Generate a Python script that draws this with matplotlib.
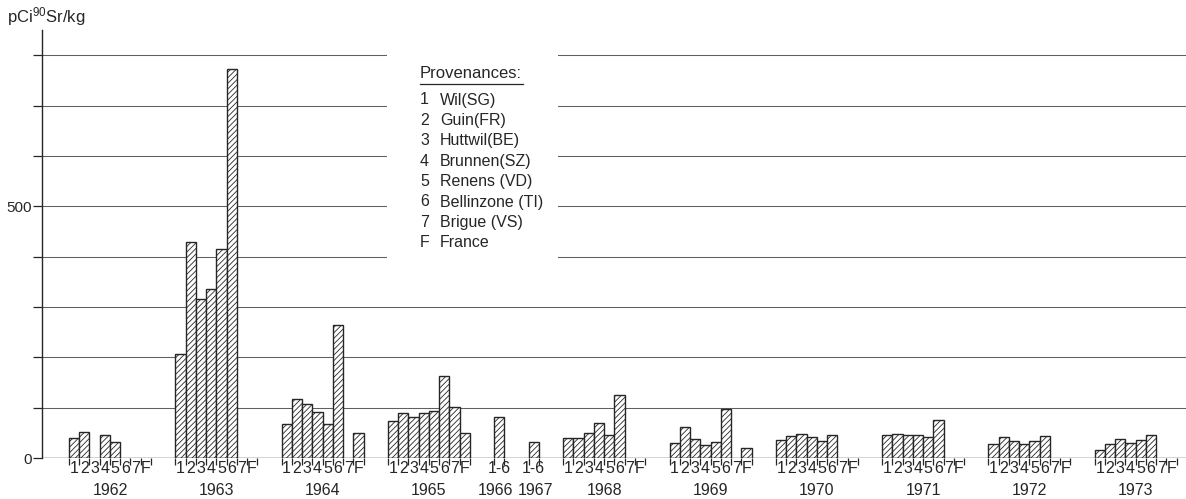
import numpy as np
import matplotlib
matplotlib.use('Agg')
import matplotlib.pyplot as plt
from matplotlib.patches import Rectangle

# ---- data: pCi 90Sr / kg, by year and origin (1-7, F) ----
years = ['1962', '1963', '1964', '1965', '1966', '1967',
         '1968', '1969', '1970', '1971', '1972', '1973']
slot_labels = ['1', '2', '3', '4', '5', '6', '7', 'F']

v1962 = [40, 52, None, 45, 32, None, None, None]
v1963 = [207, 429, 315, 335, 415, 772, None, None]
v1964 = [67, 118, 108, 91, 67, 264, None, 49]
v1965 = [74, 89, 82, 90, 94, 162, 102, 50]
v1966 = [81]
v1967 = [31]
v1968 = [39, 40, 50, 70, 45, 125, None, None]
v1969 = [29, 62, 38, 25, 31, 98, None, 20]
v1970 = [35, 43, 48, 41, 34, 45, None, None]
v1971 = [45, 47, 45, 45, 41, 76, None, None]
v1972 = [28, 41, 34, 28, 34, 43, None, None]
v1973 = [15, 28, 37, 29, 35, 45, None, None]

series = [v1962, v1963, v1964, v1965, v1966, v1967,
          v1968, v1969, v1970, v1971, v1972, v1973]

legend_title = 'Provenances:'
legend_keys = ['1', '2', '3', '4', '5', '6', '7', 'F']
legend_names = ['Wil(SG)', 'Guin(FR)', 'Huttwil(BE)', 'Brunnen(SZ)',
                'Renens (VD)', 'Bellinzone (TI)', 'Brigue (VS)', 'France']

ytick_vals = [0, 100, 200, 300, 400, 500, 600, 700, 800]
ytick_text = ['0', '', '', '', '', '500', '', '', '']

# ---- style ----
INK = '#262626'
plt.rcParams['font.family'] = ['Liberation Sans', 'DejaVu Sans']
plt.rcParams['hatch.linewidth'] = 0.6
plt.rcParams['hatch.color'] = INK

W, H, DPI = 1186, 499, 100
fig = plt.figure(figsize=(W / DPI, H / DPI), dpi=DPI)
fig.patch.set_facecolor('white')

slot_px = 10.25          # width of one bar
left_px, base_px, top_px = 42, 458, 30
ax = fig.add_axes([left_px / W, (H - base_px) / H,
                   1 - left_px / W, (base_px - top_px) / H])
ax.set_xlim(0, (W - left_px) / slot_px)
ax.set_ylim(0, 850)
ax.patch.set_alpha(0)

for s in ['top', 'right', 'bottom']:
    ax.spines[s].set_visible(False)
ax.spines['left'].set_color(INK)
ax.spines['left'].set_linewidth(1.0)

ax.set_xticks([])
ax.set_yticks(ytick_vals)
ax.set_yticklabels(ytick_text, fontsize=11, color=INK)
ax.tick_params(axis='y', length=6.5, width=0.9, color=INK, pad=1)

# horizontal rules
for v in ytick_vals[1:]:
    ax.axhline(v, color='#606060', lw=0.75, zorder=1)
ax.axhline(0, color=INK, lw=1.0, zorder=3)

# white block behind the origin list
ax.add_patch(Rectangle(((387 - left_px) / slot_px, 380), (558 - 387) / slot_px, 470,
                       facecolor='white', edgecolor='none', zorder=1.5))

# ---- bars, grouped by year ----
gap = 2.37
x = 2.63
px_per_unit = (base_px - top_px) / 850
tick_len = 6.5 / px_per_unit
# the two single-bar years sit close together: pull their labels apart a bit
label_nudge = {'1966': -0.4, '1967': 0.15}
for year, vals in zip(years, series):
    n = len(vals)
    for i, v in enumerate(vals):
        if v is None:
            continue
        ax.bar(x + i, v, width=1, align='edge', facecolor='white',
               edgecolor=INK, lw=1.0, hatch='//////', zorder=2)
    ax.vlines(x + np.arange(n + 1), -tick_len, 0, color=INK, lw=0.9, clip_on=False)
    if n == 1:
        ax.text(x + 0.5, -21, '1-6', ha='center', va='center', fontsize=11.5,
                color=INK, clip_on=False)
    else:
        for i, lab in enumerate(slot_labels):
            ax.text(x + i + 0.5, -21, lab, ha='center', va='center', fontsize=11.5,
                    color=INK, clip_on=False)
    ax.text(x + n / 2 + label_nudge.get(year, 0), -64, year, ha='center',
            va='center', fontsize=11.5, color=INK, clip_on=False)
    x += n + gap

# ---- unit label ----
fig.text(7 / W, 1 - 17 / H, r'$\mathregular{pCi^{90}Sr/kg}$', fontsize=12,
         color=INK, ha='left', va='center')

# ---- origin list ----
fig.text(420 / W, 1 - 74 / H, legend_title, fontsize=12, color=INK,
         ha='left', va='center')
fig.add_artist(plt.Line2D([420 / W, 523 / W], [1 - 84 / H, 1 - 84 / H],
                          color=INK, lw=0.9))
for k, (key, name) in enumerate(zip(legend_keys, legend_names)):
    yy = 1 - (100 + k * 20.4) / H
    fig.text(420 / W, yy, key, fontsize=11.5, color=INK, ha='left', va='center')
    fig.text(440 / W, yy, name, fontsize=11.5, color=INK, ha='left', va='center')

fig.savefig('out.png', dpi=DPI, facecolor='white')
